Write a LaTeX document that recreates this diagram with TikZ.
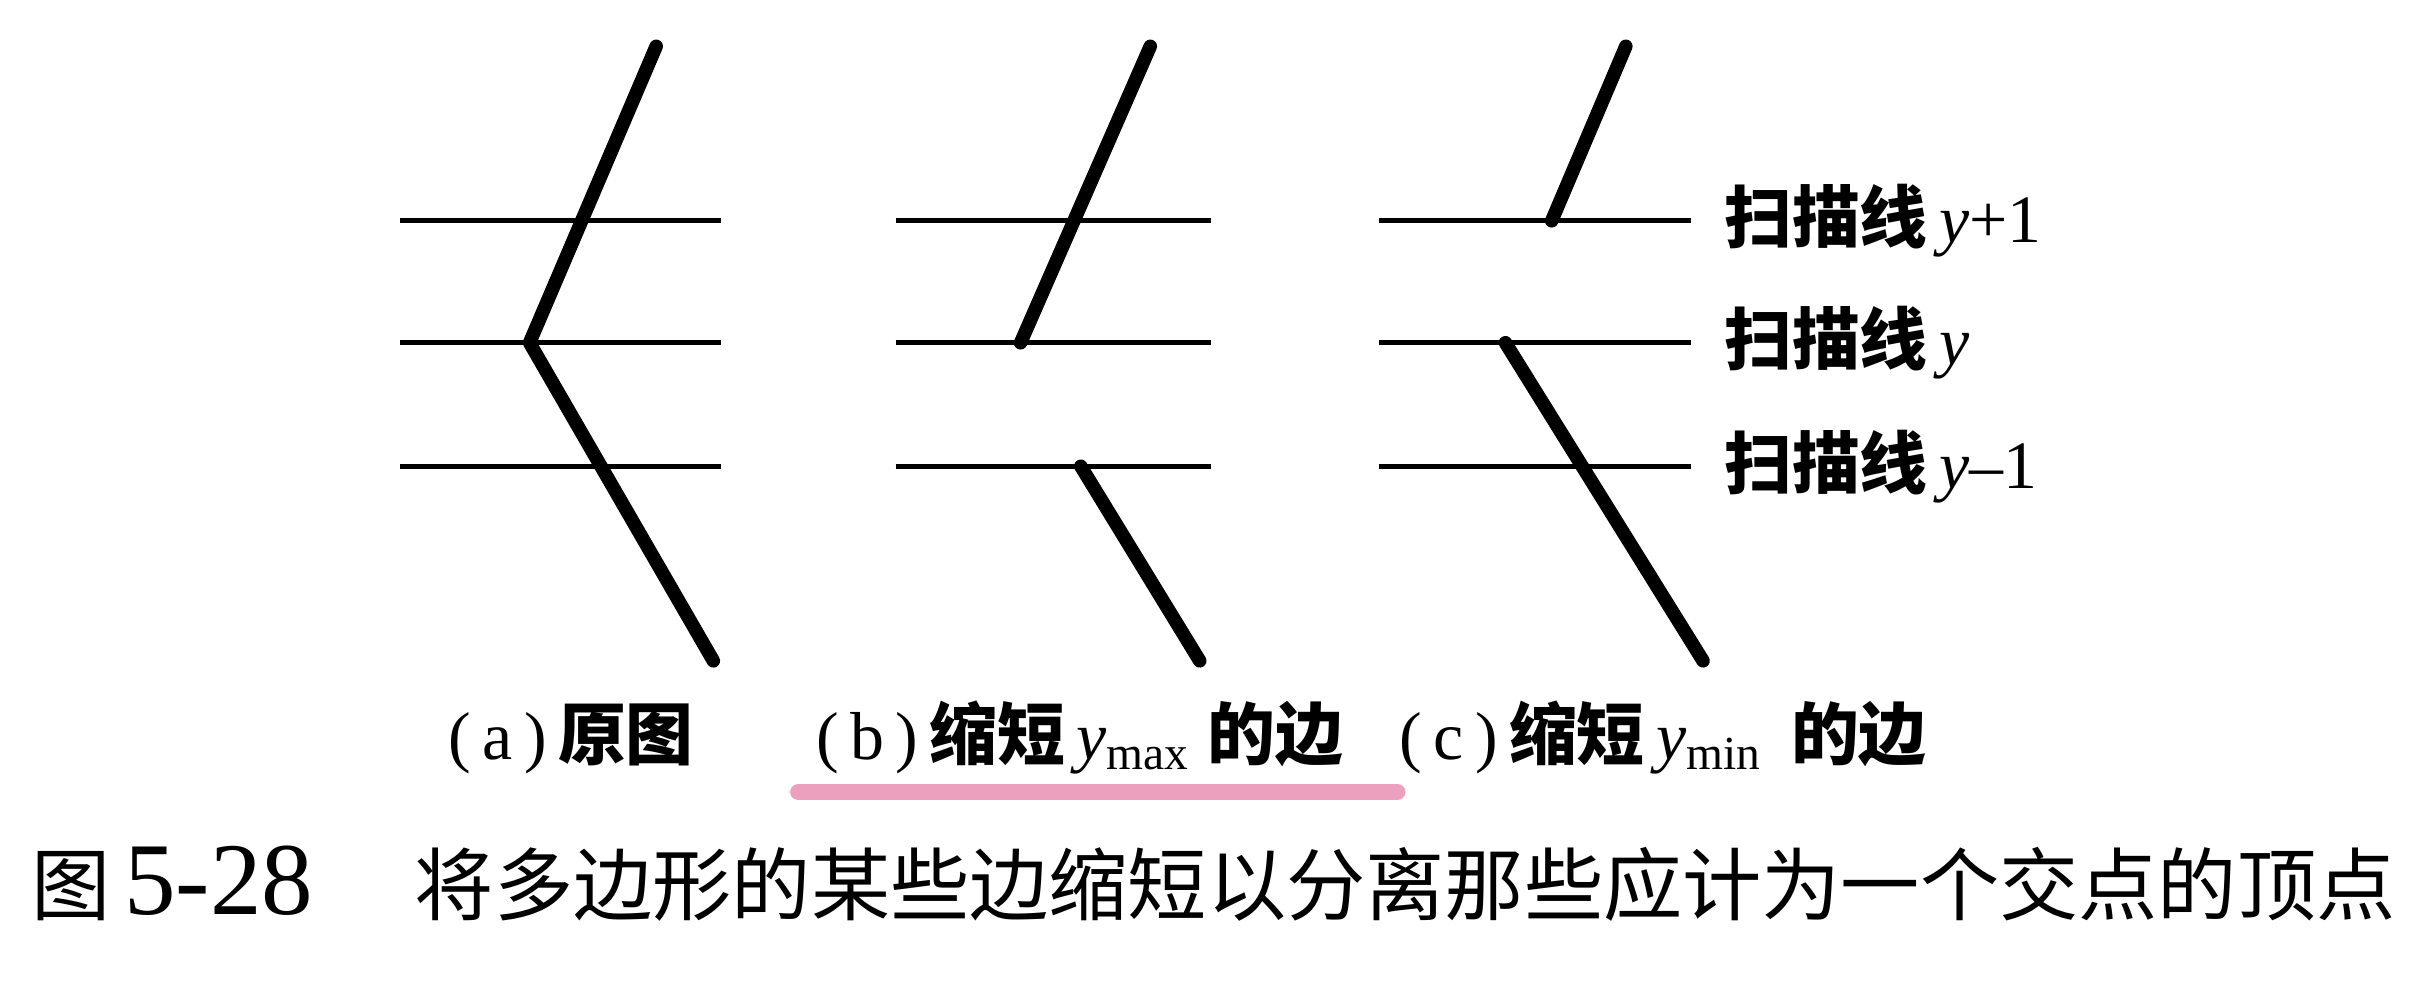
\documentclass[tikz,border=0pt]{standalone}
\usepackage{fontspec}
\setmainfont{Liberation Serif}
\newfontfamily\cjk{Noto Sans CJK SC}
\newfontfamily\latn{Liberation Serif}
\usetikzlibrary{positioning}
\definecolor{hlpink}{RGB}{236,160,190}
\tikzset{scan/.style={line width=0.9pt},
  edge/.style={line width=2.5pt,line cap=round,line join=round},
  lbl/.style={inner sep=0pt,font=\fontsize{12.5}{15}\selectfont},
  sub/.style={inner sep=0pt,font=\fontsize{12.5}{15}\selectfont}}

\begin{document}
\begin{tikzpicture}[x=0.1mm,y=-0.1mm]
\useasboundingbox (0,0) rectangle (1568,637.3);
% scan lines of the three panels
\foreach \y in {143,222,302}{
\draw[scan] (259,\y)--(467,\y);
\draw[scan] (580,\y)--(784,\y);
\draw[scan] (893,\y)--(1095,\y);
};
% (a) original edges
\coordinate (a1) at (425,30);
\coordinate (a2) at (343,222);
\coordinate (a3) at (462,428);
\draw[edge] (a1)--(a2)--(a3);
% (b) y_max shortened
\coordinate (b1) at (745,30);
\coordinate (b2) at (661,222);
\coordinate (b3) at (700,302);
\coordinate (b4) at (777,428);
\draw[edge] (b1)--(b2);
\draw[edge] (b3)--(b4);
% (c) y_min shortened
\coordinate (c1) at (1053,30);
\coordinate (c2) at (1005,143);
\coordinate (c3) at (975,222);
\coordinate (c4) at (1103,428);
\draw[edge] (c1)--(c2);
\draw[edge] (c3)--(c4);
% labels
\node[lbl,anchor=west] (up) at (1116,143) {{\cjk\bfseries 扫描线}\,\textit{y}+1};
\node[lbl,anchor=west] (mid) at (1116,222) {{\cjk\bfseries 扫描线}\,\textit{y}};
\node[lbl,anchor=west] (low) at (1116,302) {{\cjk\bfseries 扫描线}\,\textit{y}--1};
% sub-captions
\node[sub,anchor=base west] (capa) at (290,492) {(\,a\,)\,{\cjk\bfseries 原图}};
\node[sub,anchor=base west] (capb) at (528,492) {(\,b\,)\,{\cjk\bfseries 缩短}\,\textit{y}\textsubscript{max}\ {\cjk\bfseries 的边}};
\node[sub,anchor=base west] (capc) at (906,492) {(\,c\,)\,{\cjk\bfseries 缩短}\,\textit{y}\textsubscript{min}\ \,{\cjk\bfseries 的边}};
\coordinate (hl1) at (517,513);
\coordinate (hl2) at (905,513);
\draw[hlpink,line width=3pt,line cap=round] (hl1)--(hl2);
% figure caption
\node[inner sep=0pt,anchor=base west,font=\fontsize{14.6}{18}\selectfont] (fig) at (20,592)
  {{\cjk 图}\,{\latn\fontsize{19}{20}\selectfont 5-28}};
\node[inner sep=0pt,anchor=base west,font=\fontsize{14.6}{18}\selectfont] (figtext) at (268,592)
  {\cjk 将多边形的某些边缩短以分离那些应计为一个交点的顶点};
\end{tikzpicture}
\end{document}
